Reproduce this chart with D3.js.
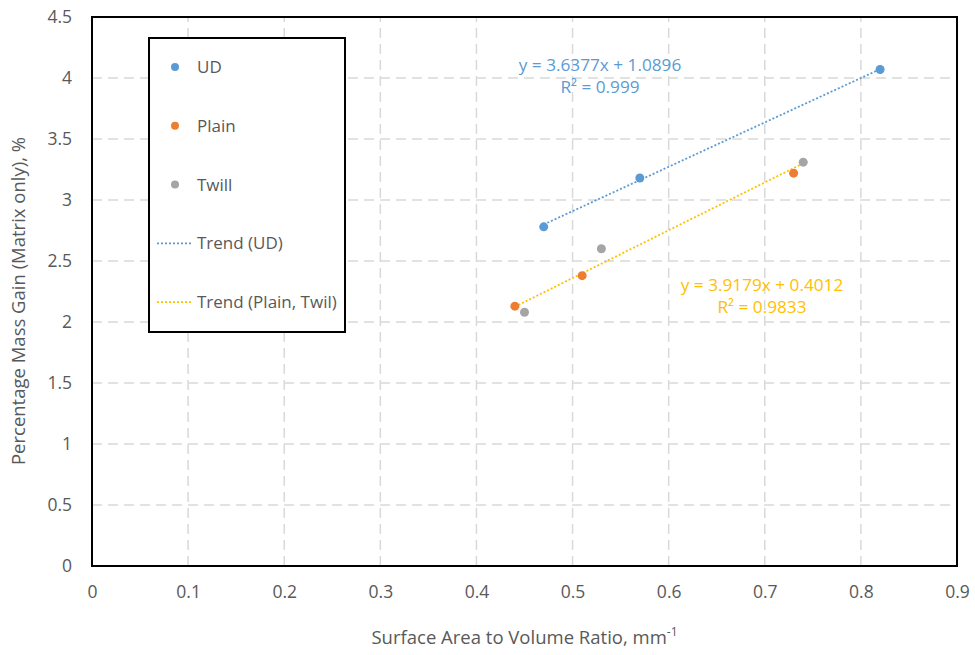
<!DOCTYPE html>
<html>
<head>
<meta charset="utf-8">
<script src="https://cdn.jsdelivr.net/npm/d3@7"></script>
<style>
  body { margin: 0; background: #fff; }
  text { font-family: "Open Sans", sans-serif; }
</style>
</head>
<body>
<div id="chart"></div>
<script>
var width = 975,
  height = 655;

// data
var udX = [0.47, 0.57, 0.82],
  udY = [2.78, 3.18, 4.07];
var plainX = [0.44, 0.51, 0.73],
  plainY = [2.13, 2.38, 3.22];
var twillX = [0.45, 0.53, 0.74],
  twillY = [2.08, 2.60, 3.31];
var xTicks = [0, 0.1, 0.2, 0.3, 0.4, 0.5, 0.6, 0.7, 0.8, 0.9];
var yTicks = [0, 0.5, 1, 1.5, 2, 2.5, 3, 3.5, 4, 4.5];
var trendUD = { slope: 3.6377, intercept: 1.0896, from: 0.47, to: 0.82 };
var trendPT = { slope: 3.9179, intercept: 0.4012, from: 0.44, to: 0.74 };
var legendLabels = ['UD', 'Plain', 'Twill', 'Trend (UD)', 'Trend (Plain, Twil)'];

var colors = { ud: '#5B9BD5', plain: '#ED7D31', twill: '#A5A5A5', trendPT: '#FFC000' };

var margin = { top: 17, right: 18, bottom: 89, left: 92 };

var x = d3.scaleLinear().domain([0, 0.9]).range([margin.left, width - margin.right]);
var y = d3.scaleLinear().domain([0, 4.5]).range([height - margin.bottom, margin.top]);

var svg = d3.select('#chart')
  .append('svg')
  .attr('width', width)
  .attr('height', height);

// grid
svg.append('g')
  .selectAll('line')
  .data(xTicks.slice(1, -1))
  .enter()
  .append('line')
  .attr('x1', d => x(d)).attr('x2', d => x(d))
  .attr('y1', y(0)).attr('y2', y(4.5))
  .attr('stroke', '#d9d9d9')
  .attr('stroke-width', 1.5)
  .attr('stroke-dasharray', '10,6');

svg.append('g')
  .selectAll('line')
  .data(yTicks.slice(1, -1))
  .enter()
  .append('line')
  .attr('x1', x(0)).attr('x2', x(0.9))
  .attr('y1', d => y(d)).attr('y2', d => y(d))
  .attr('stroke', '#d9d9d9')
  .attr('stroke-width', 1.5)
  .attr('stroke-dasharray', '10,6');

// axes labels
var xAxis = d3.axisBottom(x).tickValues(xTicks).tickSize(0).tickPadding(20).tickFormat(d3.format('~g'));
var yAxis = d3.axisLeft(y).tickValues(yTicks).tickSize(0).tickPadding(20).tickFormat(d3.format('~g'));

svg.append('g')
  .attr('transform', 'translate(0,' + y(0) + ')')
  .call(xAxis)
  .call(g => g.select('.domain').remove())
  .selectAll('text')
  .attr('font-size', 17.5)
  .attr('fill', '#595959');

svg.append('g')
  .attr('transform', 'translate(' + x(0) + ',0)')
  .call(yAxis)
  .call(g => g.select('.domain').remove())
  .selectAll('text')
  .attr('font-size', 17.5)
  .attr('fill', '#595959');

// plot frame
svg.append('rect')
  .attr('x', x(0))
  .attr('y', y(4.5))
  .attr('width', x(0.9) - x(0))
  .attr('height', y(0) - y(4.5))
  .attr('fill', 'none')
  .attr('stroke', '#000')
  .attr('stroke-width', 2);

// trend lines
function trendLine(t, color) {
  svg.append('line')
    .attr('x1', x(t.from)).attr('y1', y(t.slope * t.from + t.intercept))
    .attr('x2', x(t.to)).attr('y2', y(t.slope * t.to + t.intercept))
    .attr('stroke', color)
    .attr('stroke-width', 1.8)
    .attr('stroke-dasharray', '2,2');
}
trendLine(trendUD, colors.ud);
trendLine(trendPT, colors.trendPT);

// points
function points(xs, ys, color) {
  svg.append('g')
    .selectAll('circle')
    .data(xs)
    .enter()
    .append('circle')
    .attr('cx', d => x(d))
    .attr('cy', (d, i) => y(ys[i]))
    .attr('r', 4.5)
    .attr('fill', color);
}
points(udX, udY, colors.ud);
points(plainX, plainY, colors.plain);
points(twillX, twillY, colors.twill);

// equations
function equation(cx, cy, t, r2, color) {
  var g = svg.append('g').attr('fill', color).attr('font-size', 17.2).attr('text-anchor', 'middle');
  g.append('text').attr('x', cx).attr('y', cy)
    .text('y = ' + t.slope + 'x + ' + t.intercept);
  g.append('text').attr('x', cx).attr('y', cy + 22)
    .text('R² = ' + r2);
}
equation(600, 71, trendUD, '0.999', colors.ud);
equation(762, 291, trendPT, '0.9833', colors.trendPT);

// legend
var legend = svg.append('g');
legend.append('rect')
  .attr('x', 149).attr('y', 38)
  .attr('width', 196).attr('height', 294)
  .attr('fill', '#fff')
  .attr('stroke', '#000')
  .attr('stroke-width', 2);

var legendColors = [colors.ud, colors.plain, colors.twill, colors.ud, colors.trendPT];
var items = legend.selectAll('.item')
  .data(legendLabels)
  .enter()
  .append('g')
  .attr('class', 'item')
  .attr('transform', (d, i) => 'translate(0,' + (67 + i * 58.8) + ')');

items.filter((d, i) => i < 3)
  .append('circle')
  .attr('cx', 175).attr('cy', 0).attr('r', 4)
  .attr('fill', (d, i) => legendColors[i]);

items.filter((d, i) => i >= 3)
  .append('line')
  .attr('x1', 157).attr('x2', 191)
  .attr('stroke', (d, i) => legendColors[i + 3])
  .attr('stroke-width', 1.8)
  .attr('stroke-dasharray', '2,2');

items.append('text')
  .attr('x', 197).attr('y', 6)
  .attr('font-size', 17)
  .attr('fill', '#595959')
  .text(d => d);

// axis titles
var xt = svg.append('text')
  .attr('x', (x(0) + x(0.9)) / 2)
  .attr('y', 644)
  .attr('text-anchor', 'middle')
  .attr('font-size', 18.5)
  .attr('fill', '#595959');
xt.append('tspan').text('Surface Area to Volume Ratio, mm');
xt.append('tspan').attr('dy', -8).attr('font-size', 12).text('-1');

svg.append('text')
  .attr('transform', 'translate(25,301) rotate(-90)')
  .attr('text-anchor', 'middle')
  .attr('font-size', 18.5)
  .attr('fill', '#595959')
  .text('Percentage Mass Gain (Matrix only), %');
</script>
</body>
</html>
